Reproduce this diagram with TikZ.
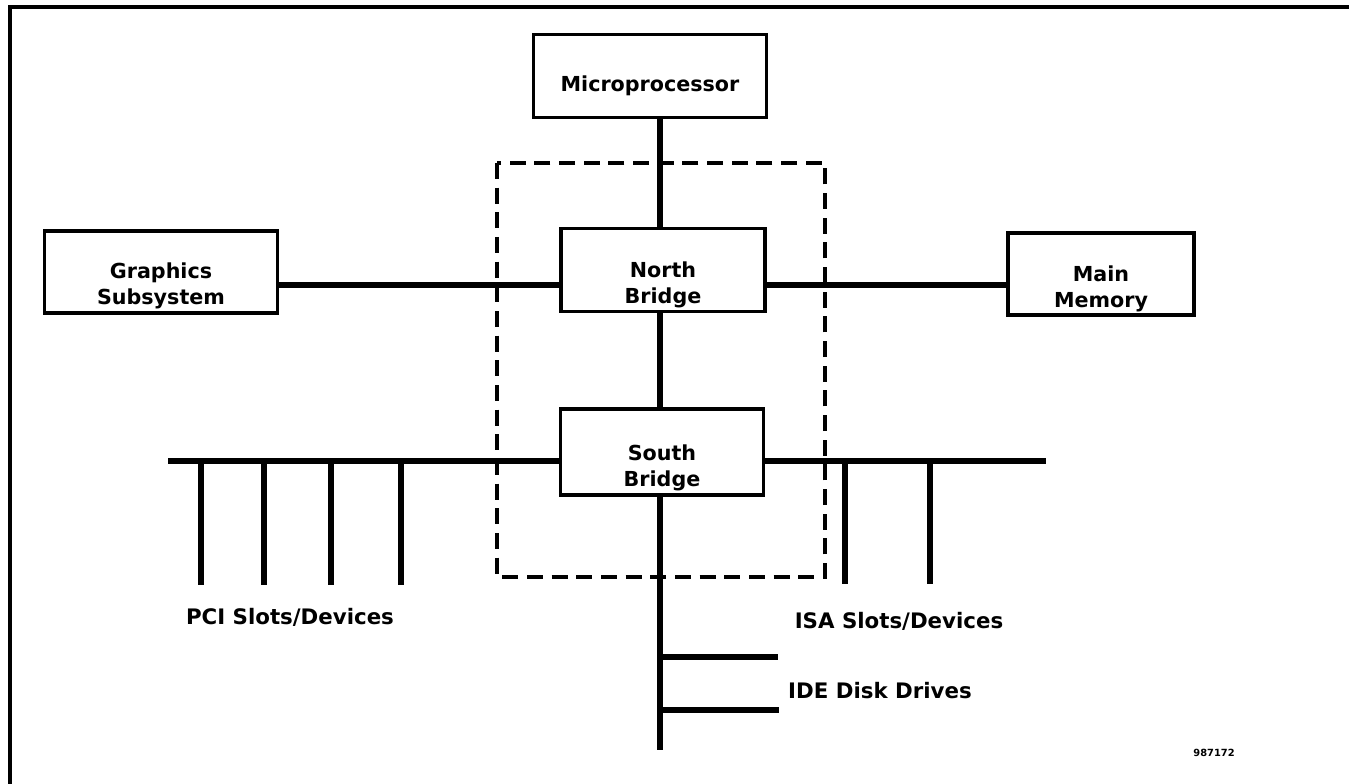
\documentclass[tikz,border=0pt]{standalone}
\usepackage{fontspec}
\setmainfont{DejaVu Sans}
\begin{document}
\begin{tikzpicture}[x=0.75pt,y=-0.75pt,
  box/.style={draw,line width=2.4pt,inner sep=0pt},
  txt/.style={font=\fontsize{15.5}{20}\selectfont\bfseries,align=center,inner sep=0pt},
  bus/.style={line width=3.8pt},
  lbl/.style={font=\fontsize{16}{19}\selectfont\bfseries,inner sep=0pt}]
\useasboundingbox (0,0) rectangle (1349,784);
% frame
\draw[line width=2.6pt] (10,784) -- (10,7) -- (1349,7);
% boxes
\node[box,minimum width=174.75pt,minimum height=62.25pt] (mp) at (650,76) {};
\node[txt] (mpt) at (650,86) {Microprocessor};
\node[box,minimum width=174.75pt,minimum height=61.5pt] (gs) at (161,272) {};
\node[txt] (gst) at (161,286) {Graphics\\Subsystem};
\node[box,minimum width=153pt,minimum height=62.25pt] (nb) at (663,270) {};
\node[txt] (nbt) at (663,285) {North\\Bridge};
\node[box,minimum width=139.5pt,minimum height=61.5pt] (mm) at (1101,274) {};
\node[txt] (mmt) at (1101,289) {Main\\Memory};
\node[box,minimum width=152.25pt,minimum height=64.5pt] (sb) at (662,452) {};
\node[txt] (sbt) at (662,468) {South\\Bridge};
% dashed chipset box
\draw[line width=2.7pt,dash pattern=on 12pt off 6.5pt] (497,163) rectangle (825,577);
% connectors
\draw[bus] (mp.south -| 660,0) -- (nb.north -| 660,0);
\draw[bus] (gs.east |- 0,285) -- (nb.west |- 0,285);
\draw[bus] (nb.east |- 0,285) -- (mm.west |- 0,285);
\draw[bus] (nb.south -| 660,0) -- (sb.north -| 660,0);
% PCI bus
\coordinate (pciL) at (168,461);
\draw[bus] (pciL) -- (sb.west |- 0,461);
\foreach \x/\n in {201/p1,264/p2,331/p3,401/p4}{
  \coordinate (\n) at (\x,585);
  \draw[bus] (\x,461) -- (\n);
}
% ISA bus
\coordinate (isaR) at (1046,461);
\draw[bus] (sb.east |- 0,461) -- (isaR);
\foreach \x/\n in {845/i1,930/i2}{
  \coordinate (\n) at (\x,584);
  \draw[bus] (\x,461) -- (\n);
}
% IDE
\coordinate (ideB) at (660,750);
\draw[bus] (sb.south -| 660,0) -- (ideB);
\coordinate (ide1) at (778,657);
\coordinate (ide2) at (779,710);
\draw[bus] (660,657) -- (ide1);
\draw[bus] (660,710) -- (ide2);
% labels
\node[lbl] (pcil) at (290,617) {PCI Slots/Devices};
\node[lbl] (isal) at (899,621) {ISA Slots/Devices};
\node[lbl] (idel) at (880,691) {IDE Disk Drives};
\node[font=\fontsize{7.4}{9}\selectfont\bfseries,inner sep=0pt] (num) at (1214,753) {987172};
\end{tikzpicture}
\end{document}
